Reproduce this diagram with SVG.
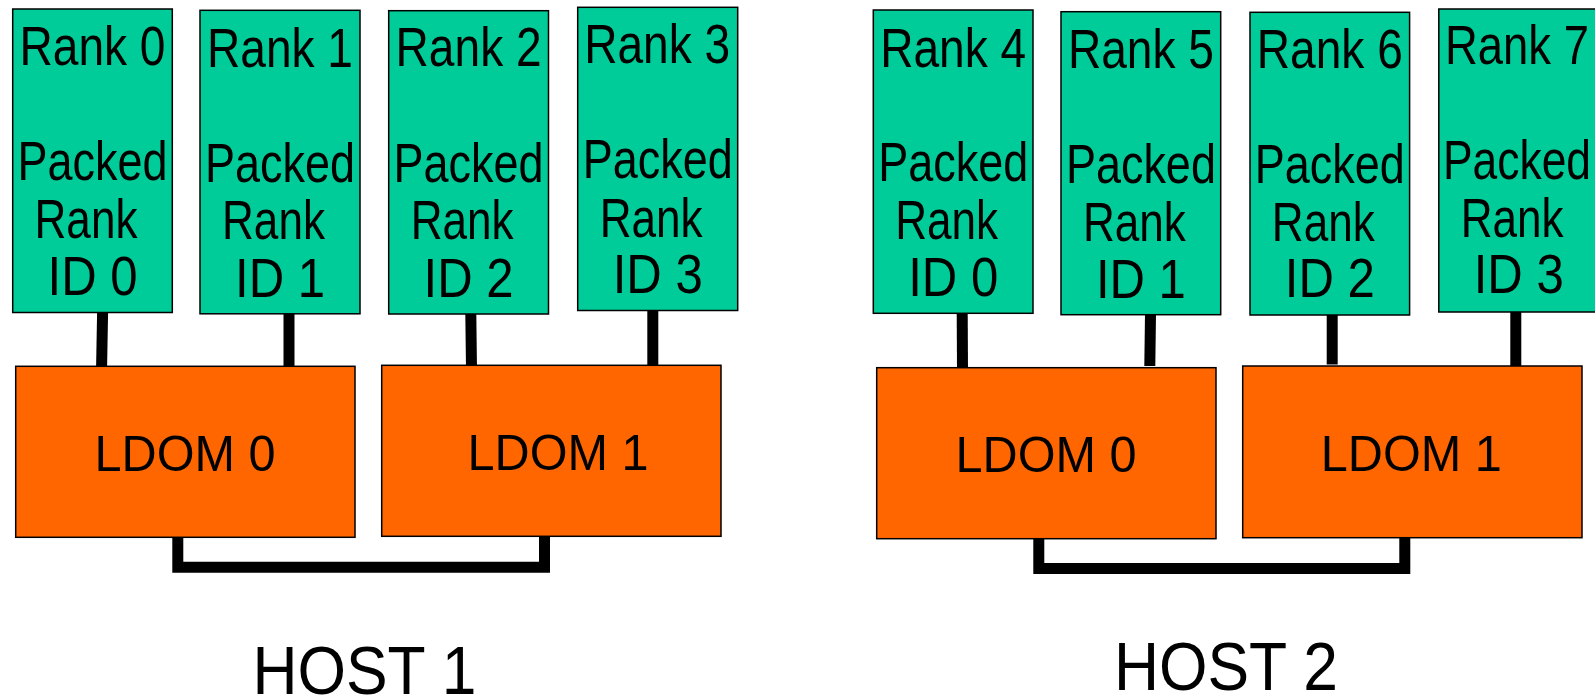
<svg xmlns="http://www.w3.org/2000/svg" width="1595" height="695" viewBox="0 0 1595 695">
  <style>
    .rank { fill: #00CC99; stroke: #000; stroke-width: 1.5; }
    .ldom { fill: #FF6600; stroke: #000; stroke-width: 1.5; }
    .t { font-family: "Liberation Sans", Arial, sans-serif; fill: #000; text-anchor: middle; }
    .rt { font-size: 55px; }
    .lt { font-size: 50px; }
    .ht { font-size: 68px; }
    .link { fill: none; stroke: #000; stroke-width: 11; stroke-linejoin: miter; stroke-linecap: butt; }
  </style>

  <!-- connectors: rank to LDOM, and LDOM to LDOM inside each host -->
  <g id="connectors">
    <line class="link" x1="102.6" y1="312" x2="101.6" y2="366.5"/>
    <line class="link" x1="289" y1="313" x2="289" y2="366.5"/>
    <line class="link" x1="470.8" y1="313" x2="471.5" y2="369"/>
    <line class="link" x1="652.8" y1="310" x2="652.8" y2="365.5"/>
    <path class="link" d="M177.8 537 V567.2 H544.5 V534"/>

    <line class="link" x1="962.2" y1="313" x2="962.5" y2="369.3"/>
    <line class="link" x1="1150.5" y1="314" x2="1149.8" y2="366"/>
    <line class="link" x1="1332.2" y1="314.5" x2="1332.2" y2="364.5"/>
    <line class="link" x1="1515.8" y1="311.5" x2="1515.8" y2="366.5"/>
    <path class="link" d="M1038.8 538.7 V568.5 H1404.8 V535.3"/>
  </g>

  <!-- HOST 1 ranks -->
  <g id="rank0">
    <rect class="rank" x="12.7" y="9" width="159.6" height="303.5"/>
    <text class="t rt" x="92.5" y="65" textLength="146" lengthAdjust="spacingAndGlyphs">Rank 0</text>
    <text class="t rt" x="92.5" y="180" textLength="150" lengthAdjust="spacingAndGlyphs">Packed</text>
    <text class="t rt" x="86" y="238" textLength="103" lengthAdjust="spacingAndGlyphs">Rank</text>
    <text class="t rt" x="92.5" y="295" textLength="90" lengthAdjust="spacingAndGlyphs">ID 0</text>
  </g>
  <g id="rank1">
    <rect class="rank" x="200" y="10.3" width="160" height="303.5"/>
    <text class="t rt" x="280" y="66.5" textLength="146" lengthAdjust="spacingAndGlyphs">Rank 1</text>
    <text class="t rt" x="280" y="181.5" textLength="150" lengthAdjust="spacingAndGlyphs">Packed</text>
    <text class="t rt" x="273.5" y="239.3" textLength="103" lengthAdjust="spacingAndGlyphs">Rank</text>
    <text class="t rt" x="280" y="296.5" textLength="90" lengthAdjust="spacingAndGlyphs">ID 1</text>
  </g>
  <g id="rank2">
    <rect class="rank" x="388.7" y="10.7" width="159.8" height="303.3"/>
    <text class="t rt" x="468.6" y="65.7" textLength="146" lengthAdjust="spacingAndGlyphs">Rank 2</text>
    <text class="t rt" x="468.6" y="181.7" textLength="150" lengthAdjust="spacingAndGlyphs">Packed</text>
    <text class="t rt" x="462.2" y="239.3" textLength="103" lengthAdjust="spacingAndGlyphs">Rank</text>
    <text class="t rt" x="468.6" y="296.7" textLength="90" lengthAdjust="spacingAndGlyphs">ID 2</text>
  </g>
  <g id="rank3">
    <rect class="rank" x="577.7" y="7.3" width="160" height="303.2"/>
    <text class="t rt" x="657.2" y="63.3" textLength="146" lengthAdjust="spacingAndGlyphs">Rank 3</text>
    <text class="t rt" x="657.7" y="178.3" textLength="150" lengthAdjust="spacingAndGlyphs">Packed</text>
    <text class="t rt" x="651.2" y="236.7" textLength="103" lengthAdjust="spacingAndGlyphs">Rank</text>
    <text class="t rt" x="657.7" y="293.3" textLength="90" lengthAdjust="spacingAndGlyphs">ID 3</text>
  </g>

  <!-- HOST 1 LDOMs -->
  <g id="host1-ldom0">
    <rect class="ldom" x="15.7" y="366.3" width="339.3" height="171"/>
    <text class="t lt" x="185" y="470.7" textLength="181" lengthAdjust="spacingAndGlyphs">LDOM 0</text>
  </g>
  <g id="host1-ldom1">
    <rect class="ldom" x="381.7" y="365.3" width="339.3" height="171"/>
    <text class="t lt" x="558" y="470" textLength="181" lengthAdjust="spacingAndGlyphs">LDOM 1</text>
  </g>

  <!-- HOST 2 ranks -->
  <g id="rank4">
    <rect class="rank" x="873.3" y="10" width="159.7" height="303.3"/>
    <text class="t rt" x="953.2" y="66.5" textLength="146" lengthAdjust="spacingAndGlyphs">Rank 4</text>
    <text class="t rt" x="953.2" y="180.5" textLength="150" lengthAdjust="spacingAndGlyphs">Packed</text>
    <text class="t rt" x="946.7" y="238.5" textLength="103" lengthAdjust="spacingAndGlyphs">Rank</text>
    <text class="t rt" x="953.2" y="295.5" textLength="90" lengthAdjust="spacingAndGlyphs">ID 0</text>
  </g>
  <g id="rank5">
    <rect class="rank" x="1061" y="11.7" width="159.7" height="303"/>
    <text class="t rt" x="1140.9" y="68" textLength="146" lengthAdjust="spacingAndGlyphs">Rank 5</text>
    <text class="t rt" x="1140.9" y="182.5" textLength="150" lengthAdjust="spacingAndGlyphs">Packed</text>
    <text class="t rt" x="1134.4" y="240.5" textLength="103" lengthAdjust="spacingAndGlyphs">Rank</text>
    <text class="t rt" x="1140.9" y="297.5" textLength="90" lengthAdjust="spacingAndGlyphs">ID 1</text>
  </g>
  <g id="rank6">
    <rect class="rank" x="1250" y="12.3" width="159.6" height="302.7"/>
    <text class="t rt" x="1329.8" y="68.3" textLength="146" lengthAdjust="spacingAndGlyphs">Rank 6</text>
    <text class="t rt" x="1329.8" y="182.7" textLength="150" lengthAdjust="spacingAndGlyphs">Packed</text>
    <text class="t rt" x="1323.3" y="240.7" textLength="103" lengthAdjust="spacingAndGlyphs">Rank</text>
    <text class="t rt" x="1329.8" y="296.7" textLength="90" lengthAdjust="spacingAndGlyphs">ID 2</text>
  </g>
  <g id="rank7">
    <rect class="rank" x="1438.8" y="9" width="159.7" height="303"/>
    <text class="t rt" x="1517" y="64.3" textLength="144" lengthAdjust="spacingAndGlyphs">Rank 7</text>
    <text class="t rt" x="1517" y="179.3" textLength="148" lengthAdjust="spacingAndGlyphs">Packed</text>
    <text class="t rt" x="1512.2" y="236.7" textLength="103" lengthAdjust="spacingAndGlyphs">Rank</text>
    <text class="t rt" x="1518.7" y="293.3" textLength="90" lengthAdjust="spacingAndGlyphs">ID 3</text>
  </g>

  <!-- HOST 2 LDOMs -->
  <g id="host2-ldom0">
    <rect class="ldom" x="876.7" y="367.7" width="339.3" height="171"/>
    <text class="t lt" x="1046" y="471.7" textLength="181" lengthAdjust="spacingAndGlyphs">LDOM 0</text>
  </g>
  <g id="host2-ldom1">
    <rect class="ldom" x="1242.7" y="366" width="339.3" height="171.7"/>
    <text class="t lt" x="1411.3" y="471" textLength="181" lengthAdjust="spacingAndGlyphs">LDOM 1</text>
  </g>

  <!-- host captions -->
  <g id="host1-label">
    <text class="t ht" x="364.5" y="694" textLength="224" lengthAdjust="spacingAndGlyphs">HOST 1</text>
  </g>
  <g id="host2-label">
    <text class="t ht" x="1226" y="690" textLength="224" lengthAdjust="spacingAndGlyphs">HOST 2</text>
  </g>
</svg>
